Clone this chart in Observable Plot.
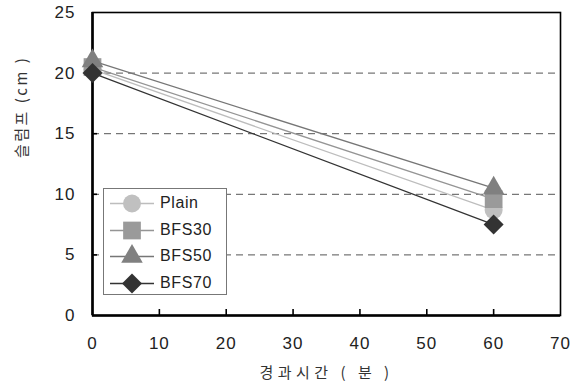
<!DOCTYPE html>
<html><head><meta charset="utf-8">
<script src="https://cdn.jsdelivr.net/npm/d3@7"></script>
<script src="https://cdn.jsdelivr.net/npm/@observablehq/plot@0.6"></script>
<style>
body{margin:0;background:#fff;}
#wrap{position:relative;width:578px;height:390px;overflow:hidden;}
#legend{position:absolute;left:103px;top:188px;width:124px;height:107px;border:1px solid #777;background:#fff;box-sizing:border-box;}
#legend .row{position:absolute;left:0;height:27px;width:122px;}
#legend .row svg{position:absolute;left:6px;top:0;}
#legend .row span{position:absolute;left:56px;top:4px;font:16px 'Liberation Sans',Arial,sans-serif;color:#222;letter-spacing:0.6px;}
</style></head><body><div id="wrap"></div>
<script>
const times = [0, 60];
const seriesNames = ["Plain", "BFS30", "BFS50", "BFS70"];
const plainValues = [20.3, 8.7];
const bfs30Values = [20.5, 9.6];
const bfs50Values = [21.0, 10.5];
const bfs70Values = [20.0, 7.5];
const xTicks = [0, 10, 20, 30, 40, 50, 60, 70];
const yTicks = [0, 5, 10, 15, 20, 25];
const gridValues = [5, 10, 15, 20];
const xLabel = "경과시간 ( 분 )";
const yLabel = "슬럼프 (cm )";

const valueSets = [plainValues, bfs30Values, bfs50Values, bfs70Values];
const styles = [
  {line: "#bdbdbd", fill: "#c0c0c0", symbol: "circle", plotSym: d3.symbolCircle, r: 9},
  {line: "#959595", fill: "#9a9a9a", symbol: "square", plotSym: d3.symbolSquare, r: 10},
  {line: "#767676", fill: "#808080", symbol: "triangle", plotSym: d3.symbolTriangle, r: 8},
  {line: "#333333", fill: "#333333", symbol: "diamond2", plotSym: d3.symbolDiamond2, r: 9}
];
const data = seriesNames.flatMap((s, i) => times.map((t, j) => ({series: s, time: t, value: valueSets[i][j]})));

const W = 578, H = 390, mL = 92, mR = 18, mT = 12, mB = 75;
const fw = W - mL - mR, fh = H - mT - mB;

const seriesMarks = seriesNames.flatMap((s, i) => {
  const d = data.filter(e => e.series === s);
  return [
    Plot.line(d, {x: "time", y: "value", stroke: styles[i].line, strokeWidth: 1.3}),
    Plot.dot(d, {x: "time", y: "value", symbol: () => styles[i].symbol, r: styles[i].r, fill: styles[i].fill, stroke: "none"})
  ];
});

const chart = Plot.plot({
  width: W, height: H,
  marginLeft: mL, marginRight: mR, marginTop: mT, marginBottom: mB,
  style: {fontFamily: "'Liberation Sans', Arial, sans-serif", fontSize: "17px", color: "#222", background: "#fff"},
  x: {domain: [0, 70]},
  y: {domain: [0, 25]},
  symbol: {type: "identity"},
  marks: [
    Plot.ruleY(gridValues, {stroke: "#555", strokeDasharray: "7,5", strokeWidth: 1}),
    Plot.ruleX(xTicks.slice(1, -1), {stroke: "#000", strokeWidth: 1.6, insetTop: fh - 6}),
    Plot.ruleY(yTicks.slice(1, -1), {stroke: "#000", strokeWidth: 1.6, insetRight: fw - 5}),
    Plot.frame({stroke: "#000", strokeWidth: 1.6}),
    Plot.ruleX([0], {stroke: "#000", strokeWidth: 2.6}),
    Plot.ruleY([0], {stroke: "#000", strokeWidth: 2.6}),
    ...seriesMarks,
    Plot.axisX({ticks: xTicks, tickSize: 0, tickPadding: 21, label: null, tickFormat: d => String(d)}),
    Plot.axisY({ticks: yTicks, tickSize: 0, tickPadding: 17, label: null, tickFormat: d => String(d)}),
    Plot.text([xLabel], {text: d => d, frameAnchor: "bottom", dy: 62, fontFamily: "'Noto Sans CJK KR', sans-serif", fontSize: 15, fill: "#333"}),
    Plot.text([yLabel], {text: d => d, frameAnchor: "left", dx: -70, dy: -6, rotate: -90, fontFamily: "'Noto Sans CJK KR', sans-serif", fontSize: 15, fill: "#333"})
  ]
});

d3.select(chart).selectAll("text").filter(function() { return this.textContent === xLabel; }).attr("letter-spacing", "4.5px");
d3.select(chart).selectAll("text").filter(function() { return this.textContent === yLabel; }).attr("letter-spacing", "2.5px");
d3.select(chart).selectAll("text").filter(function() { return /^\d+$/.test(this.textContent); }).attr("letter-spacing", "1px");

const wrap = document.getElementById("wrap");
wrap.appendChild(chart);

const legend = document.createElement("div");
legend.id = "legend";
wrap.appendChild(legend);
seriesNames.forEach((s, i) => {
  const row = document.createElement("div");
  row.className = "row";
  row.style.top = (1 + i * 26.5) + "px";
  const svg = d3.create("svg").attr("width", 46).attr("height", 27);
  svg.append("line").attr("x1", 0).attr("x2", 44).attr("y1", 13.5).attr("y2", 13.5).attr("stroke", styles[i].line).attr("stroke-width", 1.3);
  svg.append("path").attr("transform", "translate(22,13.5)")
    .attr("d", d3.symbol(styles[i].plotSym, Math.PI * styles[i].r * styles[i].r)())
    .attr("fill", styles[i].fill);
  row.appendChild(svg.node());
  const span = document.createElement("span");
  span.textContent = s;
  row.appendChild(span);
  legend.appendChild(row);
});
</script>
</body></html>
